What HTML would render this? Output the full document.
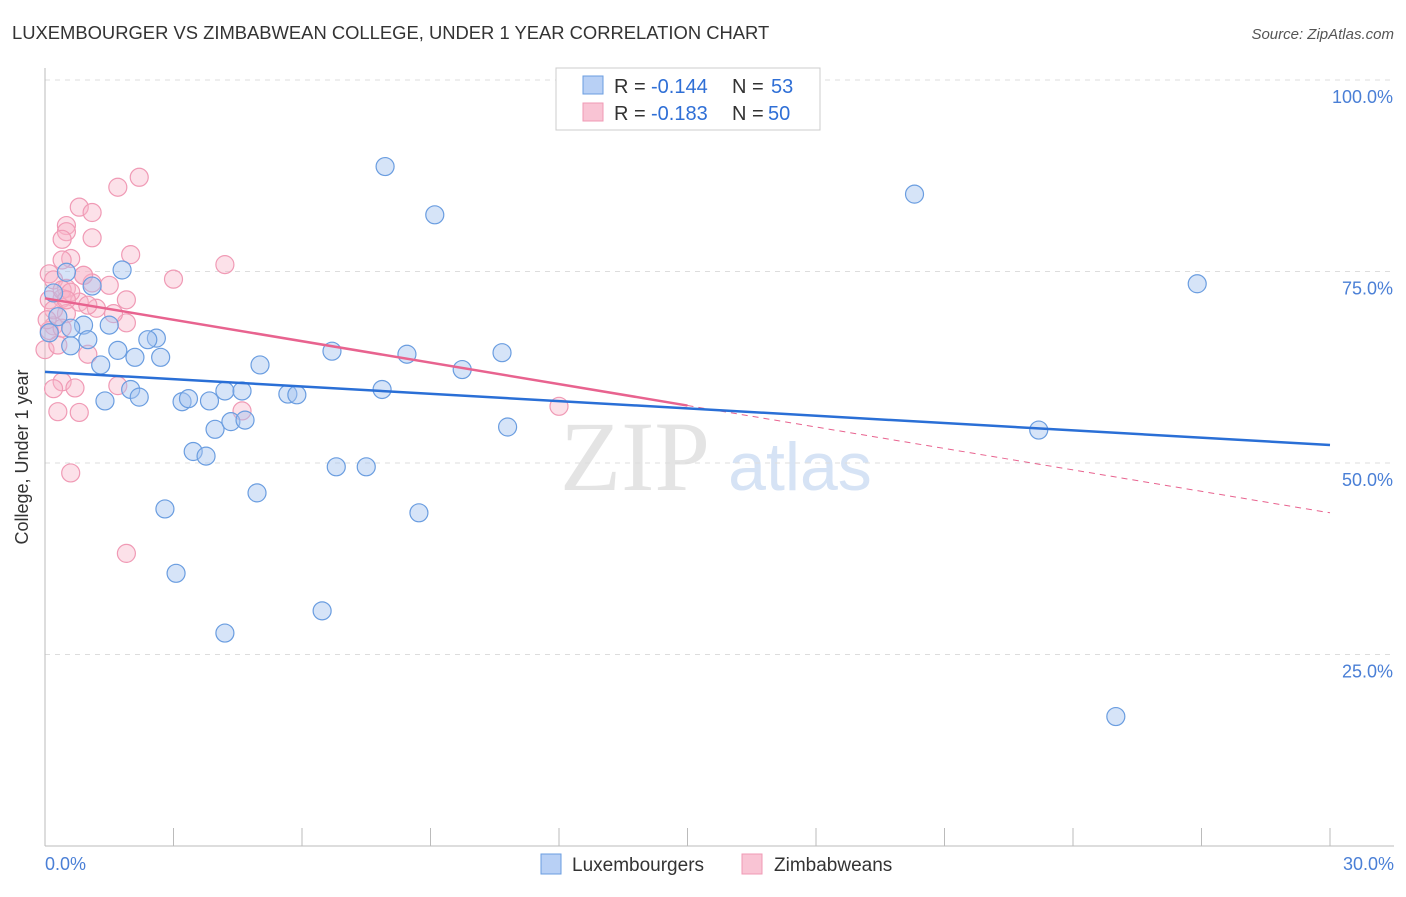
<!DOCTYPE html>
<html><head><meta charset="utf-8"><style>
body{margin:0;background:#fff;font-family:"Liberation Sans",sans-serif}
</style></head><body>
<svg width="1406" height="892" font-family="Liberation Sans, sans-serif">
<text x="12" y="39" font-size="18.4" fill="#333">LUXEMBOURGER VS ZIMBABWEAN COLLEGE, UNDER 1 YEAR CORRELATION CHART</text>
<text x="1394" y="39" font-size="15" fill="#555" font-style="italic" text-anchor="end">Source: ZipAtlas.com</text>
<text x="635" y="490" font-size="100" fill="#e4e4e4" font-family="Liberation Serif, serif" text-anchor="middle">ZIP</text>
<text x="800" y="490" font-size="68" fill="#d6e3f5" text-anchor="middle">atlas</text>
<g id="grid"></g>
<line x1="45" y1="68" x2="45" y2="846" stroke="#bbb"/>
<line x1="45" y1="846" x2="1394" y2="846" stroke="#bbb"/>
<g id="ticks"></g>
<text x="28" y="457" font-size="18" fill="#333" text-anchor="middle" transform="rotate(-90 28 457)">College, Under 1 year</text>
<text x="45" y="870" font-size="18" fill="#4a7fd6">0.0%</text>
<text x="1394" y="870" font-size="18" fill="#4a7fd6" text-anchor="end">30.0%</text>
<g id="pts"></g>
<g id="lines"></g>
<g>
<rect x="556" y="68" width="264" height="62" fill="#fff" stroke="#ccc"/>
<rect x="583" y="76" width="20" height="18" fill="#b8d0f5" stroke="#6a9de0"/>
<rect x="583" y="103" width="20" height="18" fill="#f9c4d4" stroke="#f09ab5"/>
<text x="614" y="93" font-size="20" fill="#333">R =</text>
<text x="651" y="93" font-size="20" fill="#2f6fd6">-0.144</text>
<text x="732" y="93" font-size="20" fill="#333">N =</text>
<text x="771" y="93" font-size="20" fill="#2f6fd6">53</text>
<text x="614" y="120" font-size="20" fill="#333">R =</text>
<text x="651" y="120" font-size="20" fill="#2f6fd6">-0.183</text>
<text x="732" y="120" font-size="20" fill="#333">N =</text>
<text x="768" y="120" font-size="20" fill="#2f6fd6">50</text>
</g>
<g>
<rect x="541" y="854" width="20" height="20" fill="#b8d0f5" stroke="#6a9de0"/>
<text x="572" y="871" font-size="19" fill="#333">Luxembourgers</text>
<rect x="742" y="854" width="20" height="20" fill="#f9c4d4" stroke="#f09ab5"/>
<text x="774" y="871" font-size="19" fill="#333">Zimbabweans</text>
</g>
</svg>
<script>
const yTicks=[25,50,75,100];
const yTickLabels=["25.0%","50.0%","75.0%","100.0%"];
const xTicks=[0,3,6,9,12,15,18,21,24,27,30];
const luxX=[7.94,9.1,20.3,26.9,1.8,0.5,1.1,0.2,0.3,0.9,1.5,0.6,2.6,2.4,1.0,0.6,1.7,2.1,2.7,1.3,5.02,6.7,8.45,10.67,9.74,2.0,7.87,4.2,4.6,5.67,5.88,1.4,2.2,3.2,3.35,3.84,3.97,4.34,4.67,10.8,23.2,3.46,3.76,6.8,7.5,4.95,2.8,8.73,3.06,6.47,4.2,25.0,0.1];
const luxY=[88.7,82.4,85.1,73.4,75.2,74.9,73.1,72.2,69.1,68.0,68.0,67.6,66.3,66.1,66.1,65.3,64.7,63.8,63.8,62.8,62.8,64.6,64.2,64.4,62.2,59.6,59.6,59.4,59.4,59.0,58.9,58.1,58.6,58.0,58.4,58.1,54.4,55.4,55.6,54.7,54.3,51.5,50.9,49.5,49.5,46.1,44.0,43.5,35.6,30.7,27.8,16.9,67.0];
const zimX=[2.2,1.7,0.8,1.1,0.5,0.5,0.4,1.1,2.0,0.6,0.4,4.2,0.1,0.9,3.0,0.2,0.5,1.1,0.4,0.1,0.8,1.9,1.2,0.5,0.2,1.9,1.6,0.1,1.0,0.0,0.4,1.7,0.7,0.2,0.3,0.8,4.6,12.0,0.6,1.9,0.4,0.6,0.2,0.3,0.9,0.5,1.0,0.05,0.4,1.5];
const zimY=[87.3,86.0,83.4,82.7,81.0,80.2,79.2,79.4,77.2,76.7,76.5,75.9,74.7,74.5,74.0,73.9,72.8,73.5,71.5,71.3,71.0,71.3,70.2,69.5,67.9,68.3,69.5,67.3,64.2,64.8,60.6,60.1,59.8,59.7,56.7,56.6,56.8,57.4,48.7,38.2,72.6,72.3,70.0,65.4,74.5,71.3,70.6,68.7,67.6,73.2];
const luxLine=[61.9,52.35];
const zimLine=[71.5,43.5];
const X=v=>45+v/30*1285, Y=v=>846-v/100*766;
const NS="http://www.w3.org/2000/svg";
function mk(tag,attrs,parent){const e=document.createElementNS(NS,tag);for(const k in attrs)e.setAttribute(k,attrs[k]);document.getElementById(parent).appendChild(e);return e;}
yTicks.forEach((t,i)=>{
 const l=mk('line',{x1:45,x2:1394,y1:Y(t),y2:Y(t),stroke:'#ddd','stroke-dasharray':'5,5'},'grid');
 
 
 const tx=mk('text',{x:1393,y:Y(t)+23,'font-size':18,fill:'#4a7fd6','text-anchor':'end'},'grid');
 tx.textContent=yTickLabels[i];
 
 
});
xTicks.forEach(t=>{
 const l=mk('line',{x1:X(t),x2:X(t),y1:828,y2:846,stroke:'#bbb'},'ticks');
 
 
});
zimX.forEach((v,i)=>{
 const c=mk('circle',{cx:X(v),cy:Y(zimY[i]),r:9,fill:'rgba(248,180,200,0.4)',stroke:'#f09ab5','stroke-width':1.2},'pts');
 
 
});
luxX.forEach((v,i)=>{
 const c=mk('circle',{cx:X(v),cy:Y(luxY[i]),r:9,fill:'rgba(164,196,240,0.45)',stroke:'#6a9de0','stroke-width':1.2},'pts');
 
 
});
const zl=v=>zimLine[0]+(zimLine[1]-zimLine[0])*v/30;
let a=mk('line',{x1:X(0),y1:Y(zl(0)),x2:X(15),y2:Y(zl(15)),stroke:'#e8638f','stroke-width':2.5},'lines');


let b=mk('line',{x1:X(15),y1:Y(zl(15)),x2:X(30),y2:Y(zl(30)),stroke:'#e8638f','stroke-width':1,'stroke-dasharray':'6,5'},'lines');


let c=mk('line',{x1:X(0),y1:Y(luxLine[0]),x2:X(30),y2:Y(luxLine[1]),stroke:'#2a6fd6','stroke-width':2.5},'lines');


</script>
</body></html>
